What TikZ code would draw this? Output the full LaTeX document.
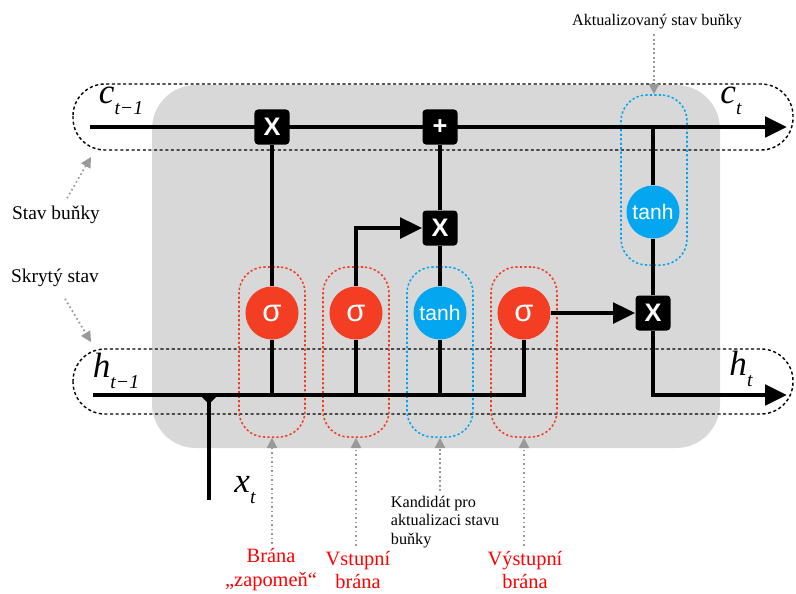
\documentclass[tikz,border=0pt]{standalone}
\usepackage{fontspec}
\setmainfont{Liberation Serif}
\setsansfont{Liberation Sans}
\usetikzlibrary{arrows.meta,positioning,calc,backgrounds}
\definecolor{gatered}{RGB}{243,62,36}
\definecolor{gateblue}{RGB}{4,166,240}
\definecolor{cellgray}{RGB}{216,216,216}
\newcommand{\lanesub}[1]{\raisebox{-0.32em}{\fontsize{14}{14}\selectfont #1}}
\tikzset{
  op/.style={fill=black, rounded corners=2.5pt, minimum size=8.75mm, inner sep=0pt, text=white, font=\sffamily\bfseries\fontsize{18}{18}\selectfont},
  gate/.style={circle, fill=gatered, minimum size=13.25mm, inner sep=0pt, text=white, font=\sffamily\fontsize{22}{22}\selectfont},
  act/.style={circle, fill=gateblue, minimum size=13.25mm, inner sep=0pt, text=white, font=\sffamily\fontsize{15}{15}\selectfont},
  wire/.style={line width=3.5pt},
  wirearrow/.style={line width=3.5pt, -{Triangle[length=5.5mm,width=5mm]}},
  pointer/.style={black!40, dotted, line width=1.2pt, -{Triangle[length=2.6mm,width=2.6mm]}},
  lane/.style={draw=black, dash pattern=on 2.2pt off 1.8pt, line width=1pt, rounded corners=8mm},
  hull/.style={dash pattern=on 1.6pt off 1.6pt, line width=1.1pt, rounded corners=6.5mm, minimum width=16.5mm, minimum height=42.5mm, inner sep=0pt},
  redhull/.style={hull, draw=gatered},
  bluehull/.style={hull, draw=gateblue},
  mathlbl/.style={font=\fontsize{25}{27}\selectfont\itshape},
  note/.style={font=\fontsize{13.8}{16}\selectfont},
  gatelbl/.style={text=red, align=center, font=\fontsize{14.5}{17}\selectfont}
}
\begin{document}
\begin{tikzpicture}[x=0.025cm, y=-0.025cm]
\useasboundingbox (0,0) rectangle (796,593);
% pointwise operations
\node[op] (fmul) at (272,127) {X};
\node[op] (add) at (440,127) {+};
\node[op] (imul) at (440,228) {X};
\node[op] (omul) at (653,313) {X};
% gates
\node[gate] (fgate) at (272,313) {σ};
\node[gate] (igate) at (356,313) {σ};
\node[act] (cand) at (440,313) {tanh};
\node[gate] (ogate) at (524,313) {σ};
\node[act] (ctanh) at (653,212) {tanh};
% ends of the lines
\coordinate (cin) at (90,127);
\coordinate (cout) at (787,127);
\coordinate (hin) at (93,395);
\coordinate (hout) at (787,395);
\coordinate (xin) at (209,500);
\coordinate (xjoin) at (xin |- hin);
\coordinate (cellptr) at (91,157);
\coordinate (hidptr) at (91,342);
\begin{scope}[on background layer]
\fill[cellgray, rounded corners=11mm] (152,85) rectangle (720,448);
\draw[lane] (73,84) rectangle (793,150);
\draw[lane] (73,349) rectangle (793,414);
\node[redhull] (fhull) at (272,352) {};
\node[redhull] (ihull) at (356,352) {};
\node[bluehull] (candhull) at (440,352) {};
\node[redhull] (ohull) at (524,352) {};
\node[bluehull] (tophull) at (654,180) {};
% cell state
\draw[wirearrow] (cin) -- (cout);
\draw[wire] (fgate) -- (fmul);
\draw[wire] (cand) -- (imul) -- (add);
\draw[wire] (ctanh) -- (ctanh |- cin);
\draw[wire] (ctanh) -- (omul);
% hidden state and input
\draw[wire] (hin) -| (ogate);
\draw[wire] (xin) -- (xjoin);
\fill (xjoin) ++(-9,0) -- ++(18,0) -- ++(-9,9) -- cycle;
\draw[wire] (fgate) -- (fgate |- hin);
\draw[wire] (igate) -- (igate |- hin);
\draw[wire] (cand) -- (cand |- hin);
\draw[wirearrow] (igate) |- (imul);
\draw[wirearrow] (ogate) -- (omul);
\draw[wirearrow] (omul) |- (hout);
\end{scope}
% line labels
\node[mathlbl] (clast) at (121,101) {c\lanesub{t−1}};
\node[mathlbl] (cnext) at (731,101) {c\lanesub{t}};
\node[mathlbl] (hlast) at (116,371) {h\lanesub{t−1}};
\node[mathlbl] (hnext) at (741,369) {h\lanesub{t}};
\node[mathlbl] (xlbl) at (245,490) {x\lanesub{t}};
% notes
\node[note] (celllbl) at (56,215) {Stav buňky};
\node[note] (hidlbl) at (55,278) {Skrytý stav};
\node[font=\fontsize{11.5}{13}\selectfont] (updlbl) at (657,22) {Aktualizovaný stav buňky};
\node[font=\fontsize{11.5}{13.2}\selectfont, align=left, anchor=west] (candlbl) at (386,522) {Kandidát pro\\aktualizaci stavu\\buňky};
\node[gatelbl] (flbl) at (271,570) {Brána\\„zapomeň“};
\node[gatelbl] (ilbl) at (358,570) {Vstupní\\brána};
\node[gatelbl] (olbl) at (525,570) {Výstupní\\brána};
\draw[pointer] ($(celllbl.north)+(11,-3)$) -- (cellptr);
\draw[pointer] ($(hidlbl.south)+(10,7)$) -- (hidptr);
\draw[pointer] (updlbl.south -| tophull.north) -- (tophull.north);
\draw[pointer] (candlbl.north -| candhull.south) -- (candhull.south);
\draw[pointer] (flbl.north -| fhull.south) -- (fhull.south);
\draw[pointer] (ilbl.north -| ihull.south) -- (ihull.south);
\draw[pointer] (olbl.north -| ohull.south) -- (ohull.south);
\end{tikzpicture}
\end{document}
